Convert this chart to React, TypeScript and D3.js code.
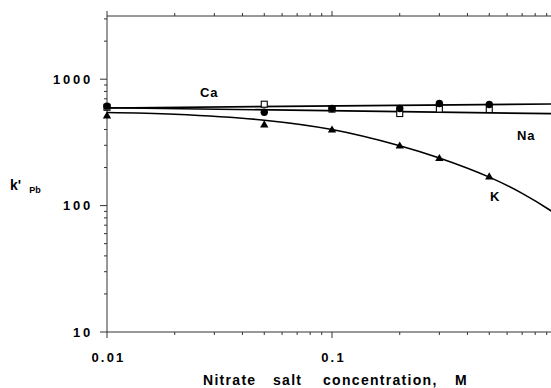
import React, { useEffect, useRef } from "react";
import * as d3 from "d3";

// ---- data ----
const concCircle = [0.01, 0.05, 0.1, 0.2, 0.3, 0.5];
const kCircle = [612, 548, 586, 586, 643, 631];

const concSquare = [0.01, 0.05, 0.1, 0.2, 0.3, 0.5];
const kSquare = [600, 634, 580, 535, 580, 576];

const concTriangle = [0.01, 0.05, 0.1, 0.2, 0.3, 0.5];
const kTriangle = [510, 433, 395, 295, 235, 168];

// fitted curves
const caLineConc = [0.01, 1];
const caLineK = [592, 637];
const naLineConc = [0.01, 1];
const naLineK = [595, 533];
const kCurveConc = [0.01, 0.02, 0.05, 0.1, 0.2, 0.3, 0.5, 0.7, 0.94, 1.0];
const kCurveK = [545, 528, 474, 400, 298, 238, 168, 125, 91, 84];

const xTickLabels = ["0.01", "0.1"];
const xTickValues = [0.01, 0.1];
const yTickLabels = ["10", "100", "1000"];
const yTickValues = [10, 100, 1000];

const seriesLabels = ["Ca", "Na", "K"];

export default function App() {
  const ref = useRef<SVGSVGElement>(null);

  useEffect(() => {
    const svg = d3.select(ref.current);
    svg.selectAll("*").remove();

    const yTop = Math.pow(10, 3.5);
    const x = d3.scaleLog().domain([0.01, 1]).range([107, 557]);
    const y = d3.scaleLog().domain([10, yTop]).range([332, 16]);

    const font = "'Liberation Sans', Arial, Helvetica, sans-serif";
    const axisColor = "#333";

    const g = svg.append("g");

    // axis lines
    g.append("line").attr("x1", x(0.01)).attr("x2", 551).attr("y1", y(10)).attr("y2", y(10))
      .attr("stroke", axisColor).attr("stroke-width", 1);
    g.append("line").attr("x1", x(0.01)).attr("x2", 551).attr("y1", y(yTop)).attr("y2", y(yTop))
      .attr("stroke", axisColor).attr("stroke-width", 1);
    g.append("line").attr("x1", x(0.01)).attr("x2", x(0.01)).attr("y1", y(10)).attr("y2", y(yTop))
      .attr("stroke", axisColor).attr("stroke-width", 1);

    // x ticks (bottom & top)
    const xTicks: number[] = [];
    for (const dec of [0.01, 0.1]) for (let m = 1; m <= 9; m++) xTicks.push(dec * m);
    xTicks.push(1);
    xTicks.forEach((t) => {
      const major = Math.abs(Math.log10(t) - Math.round(Math.log10(t))) < 1e-9;
      const px = x(t);
      if (px > 551) return;
      g.append("line").attr("x1", px).attr("x2", px).attr("y1", y(10)).attr("y2", y(10) + (major ? 6 : 3))
        .attr("stroke", axisColor);
      g.append("line").attr("x1", px).attr("x2", px).attr("y1", y(yTop)).attr("y2", y(yTop) - (major ? 5 : 3))
        .attr("stroke", axisColor);
    });

    // y ticks (left)
    const yTicks: number[] = [];
    for (const dec of [10, 100, 1000]) for (let m = 1; m <= 9; m++) yTicks.push(dec * m);
    yTicks.forEach((t) => {
      if (t > yTop) return;
      const major = Math.abs(Math.log10(t) - Math.round(Math.log10(t))) < 1e-9;
      const py = y(t);
      g.append("line").attr("x1", x(0.01) - (major ? 7 : 3)).attr("x2", x(0.01)).attr("y1", py).attr("y2", py)
        .attr("stroke", axisColor);
    });

    // tick labels
    yTickValues.forEach((v, i) => {
      g.append("text").attr("x", 93).attr("y", y(v) + 4.5)
        .attr("text-anchor", "end").attr("font-family", font).attr("font-weight", "bold")
        .attr("font-size", 13).attr("letter-spacing", 2.8).attr("fill", "#000")
        .text(yTickLabels[i]);
    });
    xTickValues.forEach((v, i) => {
      g.append("text").attr("x", x(v) + 1.5).attr("y", 362)
        .attr("text-anchor", "middle").attr("font-family", font).attr("font-weight", "bold")
        .attr("font-size", 13).attr("letter-spacing", 2.2).attr("fill", "#000")
        .text(xTickLabels[i]);
    });

    // axis title
    const title = g.append("text").attr("y", 384.5).attr("font-family", font).attr("font-weight", "bold")
      .attr("font-size", 14).attr("letter-spacing", 1.3).attr("fill", "#000");
    const words = ["Nitrate", "salt", "concentration,", "M"];
    const wordX = [203, 273, 323, 455];
    words.forEach((w, i) => title.append("tspan").attr("x", wordX[i]).text(w));

    // y label k'Pb
    const yl = g.append("text").attr("x", 10).attr("y", 190).attr("font-family", font)
      .attr("font-weight", "bold").attr("fill", "#000");
    yl.append("tspan").attr("font-size", 14).text("k'");
    yl.append("tspan").attr("font-size", 9).attr("dx", 8).attr("dy", 3).text("Pb");

    // clip
    svg.append("defs").append("clipPath").attr("id", "plotclip").append("rect")
      .attr("x", x(0.01)).attr("y", y(yTop)).attr("width", 551 - x(0.01)).attr("height", y(10) - y(yTop));

    const plot = svg.append("g").attr("clip-path", "url(#plotclip)");

    const line = d3.line<[number, number]>().x((d) => x(d[0])).y((d) => y(d[1]));
    const curve = d3.line<[number, number]>().x((d) => x(d[0])).y((d) => y(d[1])).curve(d3.curveCatmullRom.alpha(0.5));

    plot.append("path").datum(caLineConc.map((c, i) => [c, caLineK[i]] as [number, number]))
      .attr("d", line).attr("fill", "none").attr("stroke", "#000").attr("stroke-width", 1.6);
    plot.append("path").datum(naLineConc.map((c, i) => [c, naLineK[i]] as [number, number]))
      .attr("d", line).attr("fill", "none").attr("stroke", "#000").attr("stroke-width", 1.6);
    plot.append("path").datum(kCurveConc.map((c, i) => [c, kCurveK[i]] as [number, number]))
      .attr("d", curve).attr("fill", "none").attr("stroke", "#000").attr("stroke-width", 1.6);

    const marks = svg.append("g");
    // squares (open)
    concSquare.forEach((c, i) => {
      marks.append("rect").attr("x", x(c) - 3).attr("y", y(kSquare[i]) - 3).attr("width", 6).attr("height", 6)
        .attr("fill", "#fff").attr("stroke", "#000").attr("stroke-width", 1.1);
    });
    // circles (filled)
    concCircle.forEach((c, i) => {
      marks.append("circle").attr("cx", x(c)).attr("cy", y(kCircle[i])).attr("r", 3.7).attr("fill", "#000");
    });
    // triangles (filled)
    const tri = d3.symbol().type(d3.symbolTriangle).size(30);
    concTriangle.forEach((c, i) => {
      marks.append("path").attr("d", tri()).attr("transform", `translate(${x(c)},${y(kTriangle[i])})`).attr("fill", "#000");
    });

    // series labels
    const labelPos = [
      { x: 200, y: 97 },
      { x: 517, y: 140 },
      { x: 490, y: 201 },
    ];
    seriesLabels.forEach((s, i) => {
      g.append("text").attr("x", labelPos[i].x).attr("y", labelPos[i].y).attr("font-family", font)
        .attr("font-weight", "bold").attr("font-size", 13).attr("letter-spacing", 0.8).attr("fill", "#000").text(s);
    });
  }, []);

  return (
    <svg
      ref={ref}
      width={551}
      height={388}
      style={{ position: "fixed", left: 0, top: 0, background: "#fff" }}
    />
  );
}
